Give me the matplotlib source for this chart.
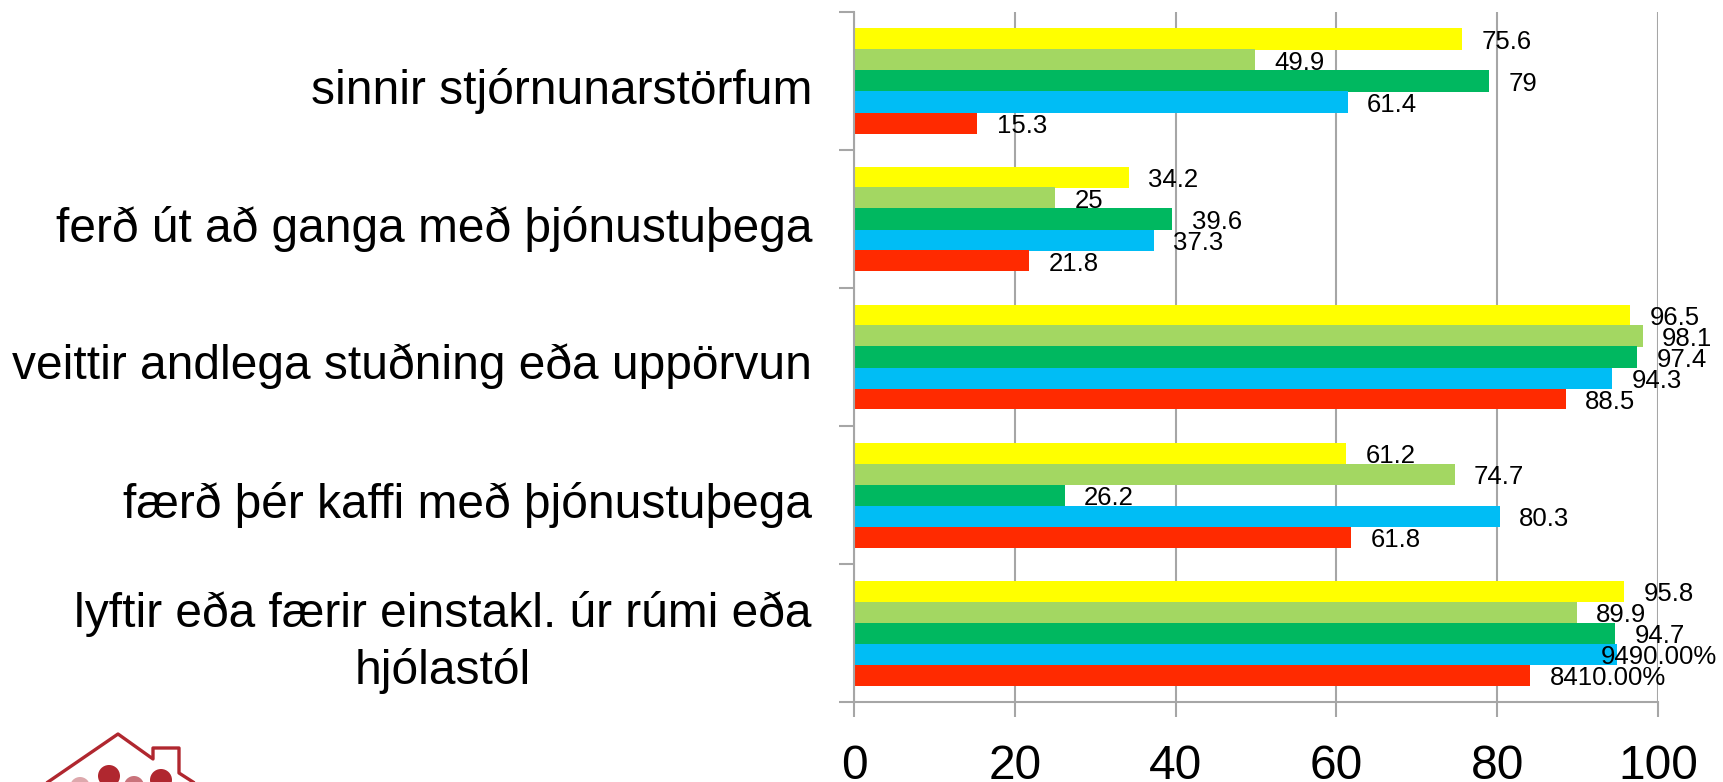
import matplotlib
matplotlib.use("Agg")
import matplotlib.pyplot as plt
from matplotlib.patches import Circle
from matplotlib.lines import Line2D
from matplotlib.transforms import IdentityTransform

W, H = 1723, 782
categories = [
    "lyftir eða færir einstakl. úr rúmi eða\nhjólastól",
    "færð þér kaffi með þjónustuþega",
    "veittir andlega stuðning eða uppörvun",
    "ferð út að ganga með þjónustuþega",
    "sinnir stjórnunarstörfum",
]
yellow = [95.8, 61.2, 96.5, 34.2, 75.6]
light_green = [89.9, 74.7, 98.1, 25, 49.9]
green = [94.7, 26.2, 97.4, 39.6, 79]
blue = [94.9, 80.3, 94.3, 37.3, 61.4]
red = [84.1, 61.8, 88.5, 21.8, 15.3]
blue_labels = ["9490.00%", "80.3", "94.3", "37.3", "61.4"]
red_labels = ["8410.00%", "61.8", "88.5", "21.8", "15.3"]
fmt = lambda v: f"{v:g}"
series = [
    (yellow, "#FFFF00", [fmt(v) for v in yellow]),
    (light_green, "#A3D762", [fmt(v) for v in light_green]),
    (green, "#00B860", [fmt(v) for v in green]),
    (blue, "#00BDF5", blue_labels),
    (red, "#FF2A00", red_labels),
]
xticks = [0, 20, 40, 60, 80, 100]

plt.rcParams["font.family"] = ["Liberation Sans", "DejaVu Sans"]
fig = plt.figure(figsize=(W / 100, H / 100), dpi=100)
ax = fig.add_axes([854 / W, 1 - 702 / H, 804 / W, 690 / H])
ax.set_xlim(0, 100)
ax.set_ylim(0, 5)
grey = "#A6A6A6"
ax.set_axisbelow(True)
ax.grid(axis="x", color=grey, lw=1.5)
for s in ["top", "right"]:
    ax.spines[s].set_visible(False)
for s in ["left", "bottom"]:
    ax.spines[s].set_color(grey)
    ax.spines[s].set_linewidth(1.5)
ax.set_xticks(xticks)
ax.set_yticks(range(6))
ax.set_yticklabels([])
ax.tick_params(axis="x", length=10.5, width=1.5, color=grey, labelsize=34.5, pad=19.5)
ax.tick_params(axis="y", length=10.5, width=1.5, color=grey)

bar_h = 21 / 138
for i, (vals, col, labels) in enumerate(series):
    offs = 2 * bar_h - i * bar_h
    for j, (v, lab) in enumerate(zip(vals, labels)):
        y = j + 0.5 + offs
        ax.barh(y, v, height=bar_h, color=col, lw=0)
        dx = -16 if lab == "9490.00%" else 19.5
        ax.annotate(lab, (v, y), xytext=(dx * 0.72, -2.2), textcoords="offset points",
                    fontsize=18.5, va="center", ha="left", color="black",
                    annotation_clip=False)

for j, c in enumerate(categories):
    ax.annotate(c, (0, j + 0.5), xytext=(-42 * 0.72, -9.5 * 0.72), textcoords="offset points",
                fontsize=34.5, ha="right", va="center", ma="center", linespacing=1.3,
                color="black", annotation_clip=False)

# logo
logo = "#B0272F"
outline = [(48, 782), (118, 734), (153, 759), (153, 748), (179, 748), (179, 773), (193, 782)]
px = [p[0] / W for p in outline]
py = [1 - p[1] / H for p in outline]
fig.add_artist(Line2D(px, py, color=logo, lw=2.4))
for x, y, r, c in [(80, 787, 10, "#DDA8AC"), (134, 786, 10, "#C9737B"),
                   (109, 776, 11, logo), (161, 780, 11, logo)]:
    fig.add_artist(Circle((x, H - y), r, color=c, lw=0, transform=IdentityTransform()))

fig.savefig("out.png", dpi=100)
